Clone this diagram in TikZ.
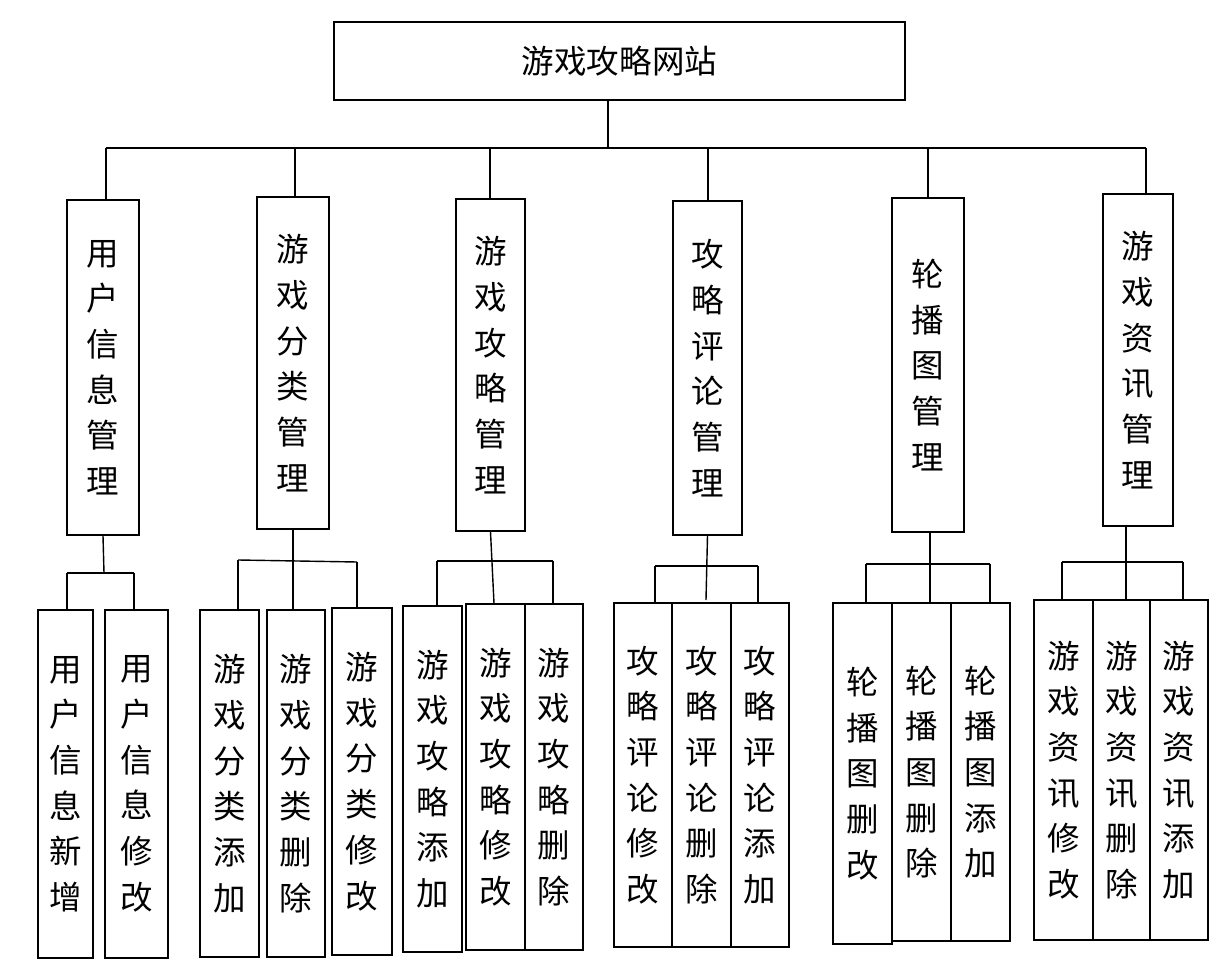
\documentclass[tikz,border=0pt]{standalone}
\usepackage{fontspec}
\setmainfont{Noto Sans CJK SC}
\tikzset{
  box/.style={draw, thick, inner sep=0pt, align=center, font=\fontsize{18.5}{26}\selectfont},
  link/.style={draw, thick}
}
% box from pixel corners: name, x1, y1, x2, y2, text
\newcommand{\bx}[6]{%
  \node[box, minimum width={(#4-#2)*0.02cm}, minimum height={(#5-#3)*0.02cm}]
    (#1) at ({(#2+#4)/2},{(#3+#5)/2}) {#6};}
\begin{document}
\begin{tikzpicture}[x=0.02cm, y=-0.02cm]
  \useasboundingbox (0,0) rectangle (1232,966);

  \bx{root}{334}{22}{905}{100}{游戏攻略网站}

  \bx{user}{67}{200}{139}{535}{用\\户\\信\\息\\管\\理}
  \bx{cate}{257}{197}{329}{529}{游\\戏\\分\\类\\管\\理}
  \bx{guide}{456}{199}{525}{531}{游\\戏\\攻\\略\\管\\理}
  \bx{cmt}{673}{201}{742}{535}{攻\\略\\评\\论\\管\\理}
  \bx{slide}{892}{198}{964}{532}{轮\\播\\图\\管\\理}
  \bx{news}{1103}{194}{1173}{526}{游\\戏\\资\\讯\\管\\理}

  % top bus
  \coordinate (bus) at (608,148);
  \draw[link] (root.south -| bus) -- (bus);
  \draw[link] (106,148) -- (1146,148);
  \foreach \n/\x in {user/106, cate/295, guide/490, cmt/708, slide/928, news/1146}
    \draw[link] (\x,148) -- (\x,0 |- \n.north);

  % user group
  \bx{userA}{38}{610}{93}{958}{用\\户\\信\\息\\新\\增}
  \bx{userB}{105}{610}{168}{958}{用\\户\\信\\息\\修\\改}
  \draw[link] (user.south) -- (104,573);
  \draw[link] (67,573) -- (134,573);
  \draw[link] (67,573) -- (67,0 |- userA.north);
  \draw[link] (134,573) -- (134,0 |- userB.north);

  % category group
  \bx{cateA}{200}{610}{259}{957}{游\\戏\\分\\类\\添\\加}
  \bx{cateB}{267}{610}{325}{957}{游\\戏\\分\\类\\删\\除}
  \bx{cateC}{332}{608}{392}{955}{游\\戏\\分\\类\\修\\改}
  \draw[link] (cate.south) -- (cate.south |- cateB.north);
  \draw[link] (238,560) -- (357,562);
  \draw[link] (238,560) -- (238,0 |- cateA.north);
  \draw[link] (357,562) -- (357,0 |- cateC.north);

  % guide group
  \bx{guideA}{403}{606}{462}{952}{游\\戏\\攻\\略\\添\\加}
  \bx{guideB}{466}{604}{525}{950}{游\\戏\\攻\\略\\修\\改}
  \bx{guideC}{525}{604}{583}{950}{游\\戏\\攻\\略\\删\\除}
  \draw[link] (guide.south) -- (494,0 |- guideB.north);
  \draw[link] (437,561) -- (553,561);
  \draw[link] (437,561) -- (437,0 |- guideA.north);
  \draw[link] (553,561) -- (553,0 |- guideC.north);

  % comment group
  \bx{cmtA}{614}{603}{672}{947}{攻\\略\\评\\论\\修\\改}
  \bx{cmtB}{672}{603}{731}{947}{攻\\略\\评\\论\\删\\除}
  \bx{cmtC}{731}{603}{789}{947}{攻\\略\\评\\论\\添\\加}
  \draw[link] (cmt.south) -- (706,600);
  \draw[link] (655,566) -- (758,566);
  \draw[link] (655,566) -- (655,0 |- cmtA.north);
  \draw[link] (758,566) -- (758,0 |- cmtC.north);

  % slide group
  \bx{slideA}{833}{603}{892}{944}{轮\\播\\图\\删\\改}
  \bx{slideB}{892}{603}{951}{941}{轮\\播\\图\\删\\除}
  \bx{slideC}{951}{603}{1010}{941}{轮\\播\\图\\添\\加}
  \draw[link] (930,0 |- slide.south) -- (930,0 |- slideB.north);
  \draw[link] (866,564) -- (990,564);
  \draw[link] (866,564) -- (866,0 |- slideA.north);
  \draw[link] (990,564) -- (990,0 |- slideC.north);

  % news group
  \bx{newsA}{1034}{600}{1093}{940}{游\\戏\\资\\讯\\修\\改}
  \bx{newsB}{1093}{600}{1150}{940}{游\\戏\\资\\讯\\删\\除}
  \bx{newsC}{1150}{600}{1208}{940}{游\\戏\\资\\讯\\添\\加}
  \draw[link] (1126,0 |- news.south) -- (1126,0 |- newsB.north);
  \draw[link] (1062,562) -- (1183,562);
  \draw[link] (1062,562) -- (1062,0 |- newsA.north);
  \draw[link] (1183,562) -- (1183,0 |- newsC.north);
\end{tikzpicture}
\end{document}
